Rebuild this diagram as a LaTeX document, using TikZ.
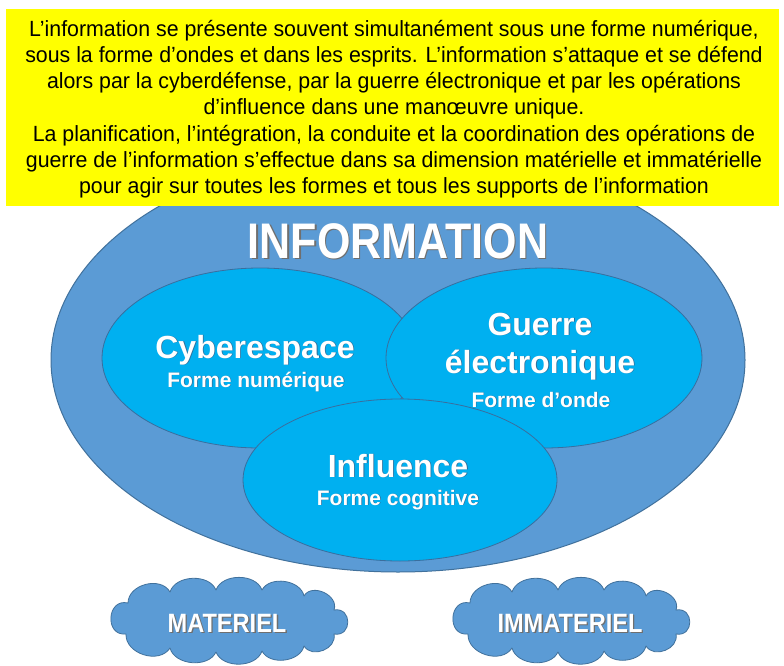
\documentclass[tikz,border=0pt]{standalone}
\usepackage{fontspec}
\setmainfont{Liberation Sans}
\newfontfamily\introfont{Liberation Sans}[FakeStretch=0.97]
\usepackage{graphicx}
\usetikzlibrary{shapes.geometric}
\definecolor{hlyellow}{HTML}{FFFF00}
\definecolor{outerblue}{HTML}{5B9BD5}
\definecolor{outerline}{HTML}{41719C}
\definecolor{innerblue}{HTML}{00B0F0}
\definecolor{innerline}{HTML}{3A6E9E}
\definecolor{shadowgray}{HTML}{6F6F6F}
\definecolor{softshadow}{HTML}{2F6E9A}
\newcommand{\shtxt}[3]{\leavevmode\rlap{\kern#1\raisebox{-#1}{\textcolor{#2}{#3}}}#3}
\newcommand{\cloudoutline}{(-100,-17) to[bend left=75, looseness=1.1] (-58,-28) to[bend left=70] (-12,-30) to[bend left=70] (34,-30) to[bend left=70] (76,-24) to[bend left=85, looseness=1.2] (106,-10) to[bend left=100, looseness=2] (106,14) to[bend left=80, looseness=1.2] (76,26) to[bend left=70] (34,31) to[bend left=70] (-12,32) to[bend left=70] (-58,28) to[bend left=75, looseness=1.1] (-102,14) to[bend left=100, looseness=1.8] (-100,-17) -- cycle}
\begin{document}
\begin{tikzpicture}[x=1pt,y=-1pt,
  bigell/.style={ellipse, draw=outerline, fill=outerblue, line width=1pt, inner sep=0pt},
  smallell/.style={ellipse, draw=innerline, fill=innerblue, line width=0.8pt, inner sep=0pt},
  cloudfill/.style={draw=outerline, fill=outerblue, line width=0.8pt, line join=round},
  whitetxt/.style={text=white, inner sep=0pt, anchor=base},
  bigtxt/.style={whitetxt, font=\bfseries\fontsize{32}{32}\selectfont},
  subtxt/.style={whitetxt, font=\bfseries\fontsize{21}{21}\selectfont},
  cloudtxt/.style={whitetxt, font=\bfseries\fontsize{26.5}{26.5}\selectfont},
  introbox/.style={fill=hlyellow, inner sep=0pt, minimum width=773, minimum height=197},
]
\useasboundingbox[fill=white] (0,0) rectangle (784,666);
\node[bigell, minimum width=694, minimum height=424] (outer) at (398,360) {};
\node[smallell, minimum width=316, minimum height=180] (cyber) at (260,358) {};
\node[smallell, minimum width=316, minimum height=180] (guerre) at (544,358) {};
\node[smallell, minimum width=314, minimum height=162] (influ) at (400,480) {};
\node[introbox] (intro) at (392.5,107.5) {};
\node[inner sep=0pt, align=center, font=\introfont\fontsize{22}{26.2}\selectfont] (introtext) at (394,109) {L’information se présente souvent simultanément sous une forme numérique,\\
sous la forme d’ondes et dans les esprits. L’information s’attaque et se défend\\
alors par la cyberdéfense, par la guerre électronique et par les opérations\\
d’influence dans une manœuvre unique.\\
La planification, l’intégration, la conduite et la coordination des opérations de\\
guerre de l’information s’effectue dans sa dimension matérielle et immatérielle\\
pour agir sur toutes les formes et tous les supports de l’information};
\node[whitetxt, font=\bfseries\fontsize{50}{50}\selectfont] (infotitle) at (398,258) {\scalebox{0.86}[1]{\shtxt{1.5pt}{shadowgray}{INFORMATION}}};
\node[bigtxt] (cybt) at (255,358) {\shtxt{0.8pt}{softshadow}{Cyberespace}};
\node[subtxt] (cybs) at (256,387) {\shtxt{0.6pt}{softshadow}{Forme numérique}};
\node[bigtxt] (guet) at (540,335) {\shtxt{0.8pt}{softshadow}{Guerre}};
\node[bigtxt] (guet2) at (540,373) {\shtxt{0.8pt}{softshadow}{électronique}};
\node[subtxt] (gues) at (541,407) {\shtxt{0.6pt}{softshadow}{Forme d’onde}};
\node[bigtxt] (inft) at (398,477) {\shtxt{0.8pt}{softshadow}{Influence}};
\node[subtxt] (infs) at (398,505) {\shtxt{0.6pt}{softshadow}{Forme cognitive}};
\begin{scope}[shift={(228,620)}]
  \draw[cloudfill] \cloudoutline;
\end{scope}
\begin{scope}[shift={(570,620)}]
  \draw[cloudfill] \cloudoutline;
\end{scope}
\node[cloudtxt] (matt) at (227,632) {\scalebox{0.89}[1]{\shtxt{1.5pt}{shadowgray}{MATERIEL}}};
\node[cloudtxt] (immatt) at (570,632) {\scalebox{0.89}[1]{\shtxt{1.5pt}{shadowgray}{IMMATERIEL}}};
\end{tikzpicture}
\end{document}
